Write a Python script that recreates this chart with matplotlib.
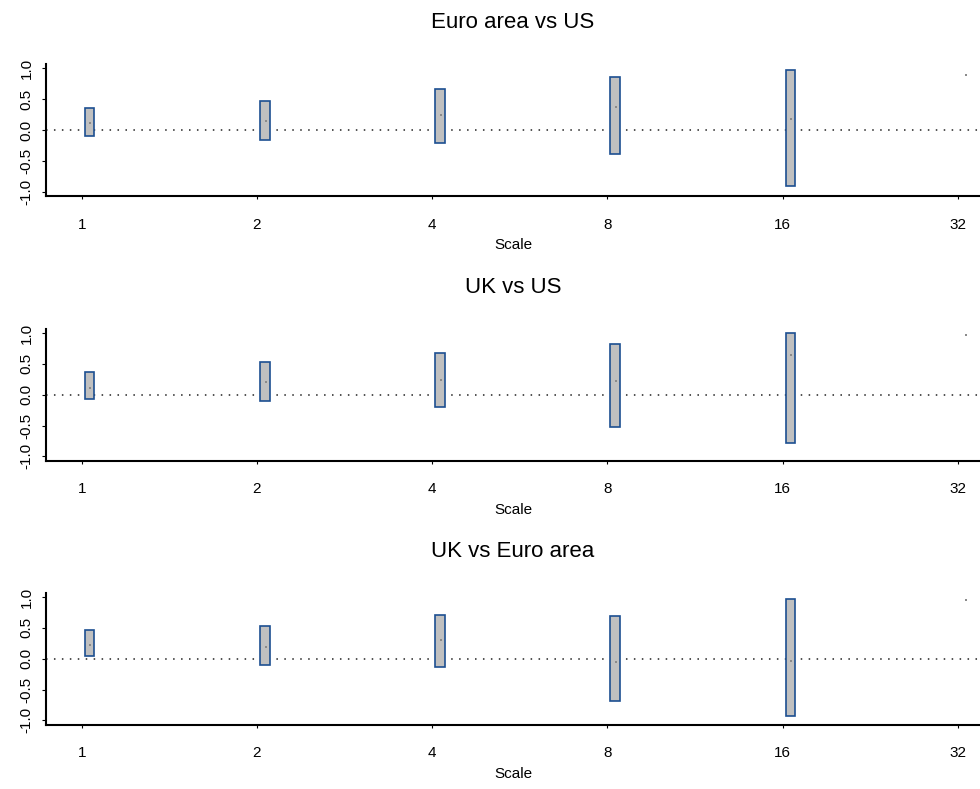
import numpy as np
import matplotlib
matplotlib.use("Agg")
import matplotlib.pyplot as plt

plt.rcParams["font.family"] = ["Liberation Sans", "DejaVu Sans"]

# wavelet scales
scales = [1, 2, 4, 8, 16, 32]

titles = ["Euro area vs US", "UK vs US", "UK vs Euro area"]

# point estimates and confidence bounds per scale (no interval at 32)
est_eu_us = [0.108, 0.141, 0.248, 0.373, 0.179, 0.893]
low_eu_us = [-0.097, -0.157, -0.211, -0.395, -0.914, np.nan]
up_eu_us = [0.352, 0.476, 0.666, 0.866, 0.969, np.nan]

est_uk_us = [0.114, 0.203, 0.245, 0.224, 0.637, 0.964]
low_uk_us = [-0.076, -0.108, -0.201, -0.523, -0.789, np.nan]
up_uk_us = [0.376, 0.529, 0.676, 0.823, 1.0, np.nan]

est_uk_eu = [0.228, 0.196, 0.305, -0.049, -0.033, 0.946]
low_uk_eu = [0.038, -0.108, -0.141, -0.690, -0.930, np.nan]
up_uk_eu = [0.468, 0.529, 0.713, 0.696, 0.962, np.nan]

panels = [
    (est_eu_us, low_eu_us, up_eu_us),
    (est_uk_us, low_uk_us, up_uk_us),
    (est_uk_eu, low_uk_eu, up_uk_eu),
]

fig = plt.figure(figsize=(9.8, 7.89), dpi=100)

W, H = 980, 789
bottoms_px = [196, 460.7, 724.7]
ax_h = 132 / H
left = 46 / W
width = (W - 46) / W

shift = 0.045   # bars sit slightly right of the tick, in log2 units
half_w = 0.027

for (est, low, up), title, bpx in zip(panels, titles, bottoms_px):
    ax = fig.add_axes([left, (H - bpx) / H, width, ax_h])
    ax.set_xscale("log", base=2)
    sc = np.array(scales, dtype=float)
    low = np.array(low)
    up = np.array(up)
    ok = ~np.isnan(low)
    x0 = sc[ok] * 2 ** (shift - half_w)
    x1 = sc[ok] * 2 ** (shift + half_w)
    ax.bar(x0, up[ok] - low[ok], width=x1 - x0, bottom=low[ok], align="edge",
           color="#c0c0c0", edgecolor="#1c4f91", linewidth=1.2, zorder=2)
    ax.plot(sc * 2 ** (shift + 0.004), est, "s", color="#8a8a8a", markersize=1.6,
            markeredgewidth=0, zorder=3)
    ax.axhline(0, color="#222222", linewidth=1.1, linestyle=(0, (1, 4.2)), zorder=1)

    ax.set_xlim(2 ** -0.204, 2 ** 5.127)
    ax.set_ylim(-1.07, 1.07)
    ax.set_xticks(scales)
    ax.set_xticklabels([str(s) for s in scales])
    ax.xaxis.set_minor_locator(matplotlib.ticker.NullLocator())
    ax.set_yticks([-1.0, -0.5, 0.0, 0.5, 1.0])
    ax.set_yticklabels(["-1.0", "-0.5", "0.0", "0.5", "1.0"], rotation=90, va="center")

    ax.spines["top"].set_visible(False)
    ax.spines["right"].set_visible(False)
    for s in ("left", "bottom"):
        ax.spines[s].set_linewidth(1.5)
    ax.tick_params(axis="x", length=2.5, width=0.8, pad=13, labelsize=11)
    ax.tick_params(axis="y", length=3, width=0.8, pad=6, labelsize=11)

    ax.set_xlabel("Scale", fontsize=11, labelpad=5)
    ax.set_title(title, fontsize=16, pad=26)

fig.savefig("out.png", dpi=100)
